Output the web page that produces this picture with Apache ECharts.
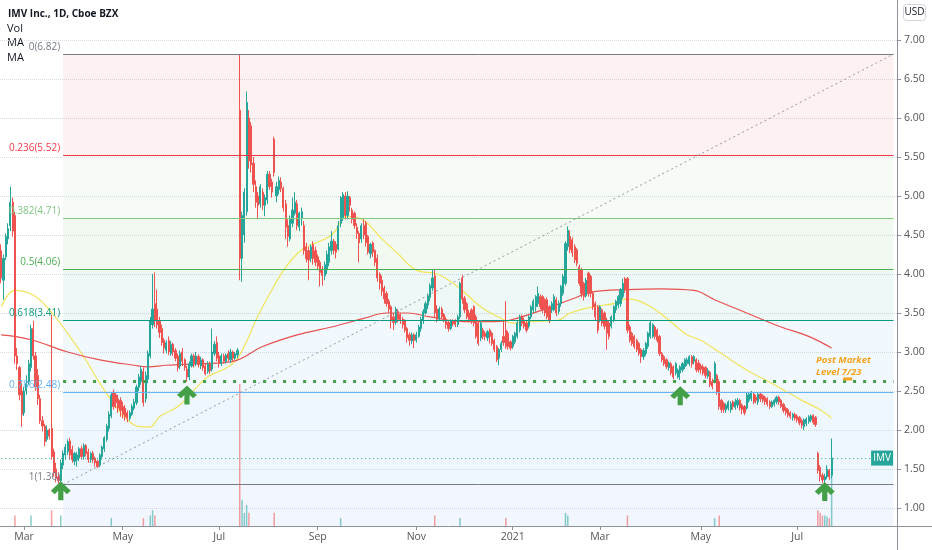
<!DOCTYPE html>
<html><head><meta charset="utf-8">
<script src="https://cdn.jsdelivr.net/npm/echarts@6/dist/echarts.min.js"></script>
<style>html,body{margin:0;padding:0;background:#fff}#c{width:932px;height:550px}</style>
</head><body><div id="c"></div>
<script>
// ---------- data ----------
const startDate = '2020-02-14';
const lastDate = '2021-07-23';
const futureBars = 28;
const holidays = ['2020-02-17','2020-04-10','2020-05-25','2020-07-03','2020-09-07','2020-11-26','2020-12-25',
  '2021-01-01','2021-01-18','2021-02-15','2021-04-02','2021-05-31','2021-07-05'];
// [open, close, low, high] per trading day
const ohlc = [
[4.30,3.95,3.88,4.38],[3.92,4.20,3.67,4.25],[4.22,4.48,4.18,4.52],[4.45,4.58,4.38,4.65],[4.62,4.92,4.55,5.12],
[4.92,4.55,4.48,4.98],[4.75,2.95,2.85,4.80],[2.95,2.85,2.77,3.05],[2.80,2.45,2.38,2.82],[2.50,2.20,2.04,2.60],
[2.22,2.50,2.18,2.55],[2.50,2.60,2.45,2.70],[2.62,2.85,2.58,2.90],[2.80,3.30,2.75,3.35],[3.30,2.95,2.90,3.40],
[2.95,2.55,2.50,3.00],[2.70,2.40,2.32,2.78],[2.40,2.12,2.08,2.45],[2.12,2.05,1.98,2.18],[2.05,1.85,1.79,2.08],
[1.88,2.00,1.85,2.06],[2.00,1.92,1.88,2.02],[2.02,1.66,1.62,3.48],[1.72,1.45,1.40,1.76],[1.50,1.38,1.33,1.58],
[1.40,1.35,1.30,1.45],[1.35,1.58,1.30,1.62],[1.55,1.70,1.50,1.74],[1.68,1.78,1.62,1.82],[1.72,1.85,1.68,1.88],
[1.86,1.68,1.62,1.90],[1.75,1.62,1.58,1.80],[1.60,1.70,1.55,1.72],[1.62,1.68,1.53,1.72],[1.64,1.76,1.60,1.78],
[1.76,1.66,1.62,1.80],[1.66,1.80,1.62,1.83],[1.80,1.70,1.66,1.82],[1.72,1.62,1.58,1.76],[1.62,1.70,1.58,1.72],
[1.70,1.62,1.58,1.73],[1.64,1.58,1.53,1.66],[1.60,1.53,1.51,1.62],[1.55,1.68,1.52,1.70],[1.66,1.78,1.62,1.80],
[1.76,1.90,1.72,1.92],[1.88,2.05,1.85,2.08],[2.02,2.20,1.98,2.24],[2.18,2.45,2.15,2.48],[2.48,2.30,2.26,2.52],
[2.45,2.35,2.28,2.48],[2.40,2.28,2.22,2.45],[2.38,2.25,2.17,2.42],[2.30,2.20,2.15,2.36],[2.28,2.17,2.12,2.32],
[2.22,2.15,2.10,2.25],[2.15,2.22,2.12,2.25],[2.20,2.30,2.18,2.33],[2.28,2.36,2.25,2.40],[2.35,2.55,2.32,2.58],
[2.55,2.68,2.50,2.72],[2.62,2.78,2.58,2.82],[2.75,2.35,2.30,2.80],[2.40,2.70,2.35,2.75],[2.65,2.98,2.60,3.02],
[2.95,3.40,2.92,3.45],[3.35,3.55,3.30,4.00],[3.62,3.40,3.32,4.02],[3.55,3.35,3.30,3.80],[3.40,3.25,3.18,3.45],
[3.30,3.12,3.08,3.35],[3.15,3.05,2.98,3.18],[3.02,3.12,2.98,3.15],[3.15,3.00,2.96,3.20],[2.98,3.10,2.95,3.14],
[3.10,3.00,2.95,3.12],[3.02,2.92,2.88,3.05],[2.95,2.80,2.75,2.98],[2.82,2.98,2.78,3.02],[3.00,2.88,2.82,3.05],
[2.90,2.80,2.76,2.92],[2.78,2.68,2.62,2.82],[2.68,2.85,2.64,2.88],[2.82,2.95,2.80,2.98],[2.95,2.85,2.80,2.98],
[2.85,2.95,2.82,3.00],[2.94,2.84,2.80,2.97],[2.82,2.90,2.78,2.94],[2.90,2.80,2.76,2.92],[2.82,2.72,2.70,2.85],
[2.75,2.85,2.72,2.88],[2.85,2.76,2.72,2.88],[2.78,3.00,2.75,3.30],[2.98,3.10,2.95,3.14],[3.12,2.92,2.88,3.20],
[2.95,2.85,2.80,3.00],[2.85,2.95,2.82,2.98],[2.95,2.88,2.85,2.98],[2.88,2.96,2.85,2.98],[2.98,2.92,2.88,3.02],
[2.90,3.00,2.86,3.04],[3.00,2.92,2.88,3.02],[2.92,2.98,2.90,3.00],[2.96,3.02,2.92,3.05],[6.10,4.20,3.92,6.82],
[4.20,4.75,3.90,4.80],[4.50,5.05,4.40,5.10],[4.80,6.20,4.75,6.34],[6.00,5.45,5.35,6.10],[5.90,5.40,5.30,5.95],
[5.42,5.15,5.05,5.50],[5.12,4.92,4.85,5.20],[5.00,4.88,4.70,5.05],[4.90,5.12,4.85,5.15],[5.05,4.88,4.82,5.10],
[4.88,4.98,4.74,5.02],[4.95,5.28,4.90,5.32],[5.28,5.12,5.08,5.32],[5.18,5.05,4.98,5.22],[5.73,5.30,5.25,5.76],
[5.00,5.12,4.92,5.18],[5.08,5.20,5.02,5.25],[5.18,5.10,5.05,5.24],[5.10,4.85,4.80,5.12],[4.90,4.60,4.45,4.95],
[4.62,4.48,4.35,4.70],[4.45,4.70,4.42,4.75],[4.65,4.82,4.60,4.98],[4.78,4.92,4.75,5.05],[4.90,4.62,4.56,4.95],
[4.60,4.78,4.55,4.80],[4.72,4.80,4.62,4.85],[4.62,4.30,4.25,4.68],[4.35,4.20,4.15,4.40],[4.30,4.18,3.92,4.35],
[4.20,4.35,4.15,4.38],[4.38,4.20,4.12,4.42],[4.30,4.15,4.10,4.35],[4.22,4.10,4.05,4.25],[4.15,4.02,3.84,4.18],
[4.05,3.98,3.85,4.10],[3.98,4.12,3.92,4.16],[4.05,4.25,4.00,4.30],[4.15,4.35,4.10,4.40],[4.30,4.42,4.25,4.55],
[4.42,4.30,4.25,4.45],[4.38,4.28,4.20,4.42],[4.32,4.62,4.30,4.68],[4.65,4.98,4.60,5.00],[4.72,5.02,4.68,5.05],
[5.00,4.75,4.70,5.05],[4.75,5.00,4.70,5.06],[4.98,4.88,4.80,5.00],[4.82,4.70,4.65,4.85],[4.78,4.62,4.58,4.80],
[4.60,4.52,4.45,4.65],[4.52,4.40,4.15,4.55],[4.45,4.62,4.40,4.65],[4.62,4.50,4.45,4.70],[4.65,4.40,4.35,4.68],
[4.48,4.28,4.25,4.50],[4.26,4.38,4.20,4.40],[4.40,4.28,4.22,4.42],[4.30,4.15,4.10,4.32],[4.20,3.95,3.90,4.25],
[4.00,3.88,3.80,4.02],[3.92,3.78,3.72,3.98],[3.82,3.68,3.62,3.85],[3.75,3.62,3.58,3.78],[3.65,3.55,3.50,3.68],
[3.58,3.40,3.30,3.60],[3.45,3.38,3.28,3.50],[3.38,3.55,3.35,3.58],[3.52,3.42,3.38,3.55],[3.48,3.40,3.36,3.50],
[3.42,3.35,3.30,3.45],[3.40,3.28,3.25,3.42],[3.30,3.18,3.12,3.32],[3.22,3.15,3.08,3.25],[3.14,3.22,3.10,3.25],
[3.22,3.15,3.05,3.24],[3.15,3.22,3.12,3.26],[3.20,3.32,3.18,3.35],[3.30,3.42,3.26,3.45],[3.40,3.52,3.36,3.55],
[3.50,3.62,3.48,3.65],[3.60,3.72,3.55,3.75],[3.70,3.85,3.65,3.88],[3.82,3.95,3.78,4.05],[3.98,3.50,3.45,4.06],
[3.55,3.42,3.38,3.60],[3.42,3.55,3.40,3.58],[3.55,3.45,3.42,3.58],[3.48,3.40,3.38,3.50],[3.42,3.35,3.30,3.45],
[3.38,3.30,3.26,3.40],[3.30,3.40,3.28,3.42],[3.40,3.36,3.33,3.42],[3.40,3.35,3.32,3.42],[3.35,3.45,3.32,3.48],
[3.45,3.88,3.42,3.90],[3.95,3.68,3.62,3.99],[3.69,3.54,3.50,3.72],[3.62,3.45,3.42,3.64],[3.50,3.42,3.38,3.54],
[3.54,3.41,3.36,3.56],[3.58,3.37,3.33,3.60],[3.45,3.20,3.17,3.48],[3.37,3.11,3.08,3.40],[3.18,3.37,3.14,3.40],
[3.28,3.20,3.16,3.31],[3.24,3.20,3.15,3.27],[3.18,3.26,3.14,3.28],[3.28,3.20,3.11,3.30],[3.24,3.11,3.08,3.26],
[3.15,3.03,3.00,3.17],[3.07,2.90,2.87,3.09],[2.92,3.03,2.83,3.05],[3.03,3.11,3.00,3.14],[3.20,3.12,3.08,3.40],
[3.28,3.07,3.04,3.65],[3.24,3.07,3.03,3.27],[3.13,3.05,3.02,3.15],[3.07,3.20,3.04,3.22],[3.13,3.24,3.10,3.26],
[3.20,3.37,3.17,3.40],[3.28,3.45,3.25,3.48],[3.45,3.37,3.33,3.48],[3.41,3.33,3.30,3.44],[3.37,3.28,3.25,3.40],
[3.33,3.45,3.30,3.47],[3.45,3.58,3.42,3.60],[3.54,3.65,3.50,3.68],[3.58,3.71,3.52,3.73],[3.62,3.75,3.58,3.84],
[3.71,3.58,3.55,3.74],[3.71,3.54,3.50,3.73],[3.67,3.50,3.46,3.69],[3.67,3.45,3.42,3.70],[3.58,3.41,3.37,3.60],
[3.54,3.62,3.50,3.65],[3.54,3.71,3.52,3.74],[3.67,3.50,3.46,3.70],[3.52,3.62,3.48,3.66],[3.62,3.84,3.58,3.86],
[3.75,3.97,3.72,4.00],[3.88,4.39,3.85,4.42],[4.35,4.56,4.30,4.61],[4.48,4.31,4.27,4.56],[4.44,4.27,4.22,4.47],
[4.35,4.18,4.14,4.38],[4.31,4.14,4.10,4.33],[4.09,3.88,3.85,4.12],[4.05,3.75,3.70,4.08],[3.88,3.71,3.66,3.90],
[3.72,3.92,3.70,3.95],[4.01,3.75,3.71,4.03],[3.97,3.75,3.70,3.99],[3.75,3.58,3.54,3.78],[3.62,3.45,3.41,3.65],
[3.58,3.28,3.24,3.60],[3.41,3.58,3.38,3.60],[3.54,3.37,3.33,3.56],[3.50,3.33,3.29,3.52],[3.41,3.24,3.03,3.44],
[3.37,3.20,3.16,3.40],[3.33,3.45,3.30,3.47],[3.41,3.58,3.38,3.60],[3.54,3.65,3.50,3.67],[3.60,3.71,3.56,3.73],
[3.62,3.80,3.58,3.82],[3.71,3.88,3.68,3.94],[3.94,3.80,3.76,3.96],[3.94,3.28,3.24,3.96],[3.32,3.15,3.12,3.35],
[3.24,3.11,3.08,3.26],[3.20,3.07,3.04,3.22],[3.15,3.03,3.00,3.17],[3.11,2.98,2.95,3.13],[3.03,2.94,2.86,3.05],
[2.94,3.02,2.90,3.05],[2.98,3.11,2.95,3.13],[3.07,3.24,3.04,3.26],[3.20,3.37,3.17,3.40],[3.20,3.35,3.18,3.37],
[3.32,3.20,3.16,3.34],[3.28,3.15,3.12,3.30],[3.20,2.98,2.95,3.22],[2.98,2.90,2.87,3.00],[2.94,2.85,2.82,2.96],
[2.90,2.81,2.78,2.92],[2.80,2.86,2.76,2.88],[2.85,2.73,2.70,2.87],[2.81,2.68,2.65,2.83],[2.73,2.85,2.70,2.87],
[2.68,2.77,2.66,2.79],[2.73,2.81,2.64,2.83],[2.77,2.85,2.74,2.87],[2.81,2.90,2.78,2.92],[2.85,2.90,2.82,2.93],
[2.85,2.94,2.82,2.96],[2.94,2.85,2.80,2.96],[2.88,2.94,2.84,2.96],[2.90,2.77,2.74,2.92],[2.86,2.77,2.74,2.90],
[2.82,2.78,2.72,2.85],[2.81,2.73,2.70,2.84],[2.80,2.70,2.66,2.82],[2.69,2.76,2.66,2.79],[2.74,2.58,2.55,2.76],
[2.62,2.56,2.52,2.66],[2.62,2.85,2.60,2.88],[2.70,2.48,2.45,2.72],[2.62,2.30,2.26,2.65],[2.38,2.26,2.22,2.40],
[2.34,2.26,2.22,2.36],[2.26,2.32,2.22,2.34],[2.28,2.36,2.25,2.38],[2.26,2.34,2.22,2.37],[2.36,2.30,2.26,2.38],
[2.29,2.36,2.26,2.40],[2.32,2.38,2.28,2.41],[2.38,2.28,2.25,2.40],[2.32,2.26,2.20,2.34],[2.30,2.22,2.19,2.32],
[2.28,2.45,2.26,2.48],[2.38,2.46,2.35,2.48],[2.40,2.48,2.37,2.50],[2.46,2.36,2.33,2.48],[2.42,2.38,2.34,2.45],
[2.36,2.46,2.32,2.48],[2.46,2.40,2.36,2.48],[2.44,2.38,2.35,2.46],[2.42,2.36,2.32,2.44],[2.40,2.33,2.30,2.42],
[2.36,2.30,2.27,2.38],[2.30,2.36,2.28,2.38],[2.33,2.38,2.30,2.40],[2.36,2.42,2.33,2.44],[2.42,2.36,2.32,2.44],
[2.38,2.30,2.28,2.40],[2.33,2.25,2.22,2.35],[2.28,2.22,2.19,2.30],[2.26,2.19,2.16,2.28],[2.22,2.17,2.14,2.24],
[2.16,2.20,2.12,2.22],[2.20,2.15,2.12,2.22],[2.18,2.13,2.10,2.20],[2.16,2.09,2.06,2.18],[2.12,2.06,2.02,2.14],
[2.04,2.13,2.00,2.15],[2.08,2.14,2.05,2.16],[2.11,2.17,2.08,2.19],[2.13,2.18,2.10,2.20],[2.19,2.10,2.07,2.20],
[2.16,2.07,2.04,2.18],[1.70,1.48,1.44,1.72],[1.52,1.40,1.34,1.55],[1.42,1.36,1.32,1.45],[1.36,1.40,1.30,1.44],
[1.40,1.50,1.37,1.55],[1.48,1.40,1.36,1.50],[1.42,1.64,1.38,1.89]
];
// visible volume bars (bar index -> relative volume)
const volumeByBar = {6:2,13:2,22:3,26:2,48:1.5,62:1.5,65:2,66:3,67:2,104:27,105:5,106:2.5,107:4,108:2.5,119:2.5,
  148:1.5,189:2,200:1.5,220:1.5,246:2.5,247:2,273:2,311:1.5,313:2,356:3,357:2.5,358:2,359:2,360:1.8,361:1.5,362:10};
// moving averages: [bar index, value]
const ma50 = [[0,3.58],[6,3.79],[14,3.73],[21,3.54],[29,3.24],[36,2.94],[43,2.60],[49,2.34],[55,2.13],[61,2.04],
  [65,2.04],[69,2.17],[77,2.30],[84,2.51],[90,2.68],[99,2.81],[104,2.96],[114,3.58],[129,4.26],[144,4.50],[151,4.74],
  [158,4.69],[165,4.48],[173,4.26],[181,4.05],[190,4.00],[199,3.84],[209,3.58],[218,3.43],[223,3.37],[232,3.39],
  [243,3.41],[248,3.50],[258,3.58],[267,3.62],[273,3.68],[282,3.60],[291,3.41],[299,3.22],[305,3.15],[314,2.98],
  [325,2.77],[337,2.58],[349,2.38],[357,2.26],[362,2.15]];
const ma200 = [[0,3.22],[6,3.20],[14,3.15],[29,3.00],[43,2.90],[58,2.83],[64,2.81],[72,2.83],[87,2.85],[101,2.88],
  [114,3.07],[129,3.22],[144,3.32],[158,3.43],[168,3.50],[177,3.50],[187,3.45],[202,3.39],[215,3.39],[222,3.41],
  [236,3.54],[248,3.67],[258,3.77],[273,3.80],[288,3.81],[302,3.79],[311,3.67],[325,3.50],[340,3.32],[352,3.20],[362,3.05]];
const priceTicks = [1.00,1.50,2.00,2.50,3.00,3.50,4.00,4.50,5.00,5.50,6.00,6.50,7.00];
const fibRatios = ['0','0.236','0.382','0.5','0.618','0.786','1'];
const fibPrices = [6.82,5.52,4.71,4.06,3.41,2.48,1.30];
const fibStartBar = 27, fibEndBar = 389;
const postMarketLevel = 2.63;
const lastPrice = 1.64;
const arrowPoints = [[26,1.22],[81,2.45],[296,2.44],[359,1.21]];
const monthNames = ['Jan','Feb','Mar','Apr','May','Jun','Jul','Aug','Sep','Oct','Nov','Dec'];
const legendLines = ['IMV Inc., 1D, Cboe BZX','Vol','MA','MA'];

// ---------- categories (trading days) ----------
const cats = [];
(function(){
  let d = new Date(startDate + 'T00:00:00Z');
  let done = false, extra = 0;
  while (true) {
    const s = d.toISOString().slice(0,10), wd = d.getUTCDay();
    if (wd !== 0 && wd !== 6) {
      if (!done) { if (!holidays.includes(s)) cats.push(s); if (s === lastDate) done = true; }
      else { cats.push(s); extra++; if (extra >= futureBars) break; }
    }
    d.setUTCDate(d.getUTCDate() + 1);
  }
})();
function isLabelIdx(i){
  if (i === 0 || i >= ohlc.length) return false;
  const m = +cats[i].slice(5,7), pm = +cats[i-1].slice(5,7);
  return m !== pm && (m % 2 === 1);
}

const UP = '#26a69a', DOWN = '#ef5350';
const fibColors = ['#787b86','#f23645','#81c784','#4caf50','#089981','#64b5f6','#787b86'];
const bandColors = ['rgba(242,54,69,0.07)','rgba(129,199,132,0.07)','rgba(76,175,80,0.08)','rgba(8,153,129,0.07)',
  'rgba(100,181,246,0.09)','rgba(100,181,246,0.11)','rgba(41,98,255,0.06)'];
const yMin = 0.769, yMax = 7.513;

const volData = cats.map((c,i)=>{
  const v = volumeByBar[i];
  if (v == null) return null;
  const k = ohlc[i];
  return {value: v, itemStyle: {color: k[1] >= k[0] ? 'rgba(38,166,154,0.55)' : 'rgba(239,83,80,0.55)'}};
});

const FONT = 'Open Sans';
const fibAreas = fibPrices.map((p,i)=>{
  const lower = i < fibPrices.length-1 ? fibPrices[i+1] : yMin;
  return [{coord:[fibStartBar,p], itemStyle:{color:bandColors[i]}}, {coord:[fibEndBar,lower]}];
});
const fibLines = fibPrices.map((p,i)=>[
  {coord:[fibStartBar,p], lineStyle:{color:fibColors[i],width:1,type:'solid'},
   label:{show:true,position:'start',formatter:fibRatios[i]+'('+p.toFixed(2)+')',color:fibColors[i],fontSize:10,
     fontFamily:FONT,distance:3,offset:[0,-7]}},
  {coord:[fibEndBar,p]}
]);

const chart = echarts.init(document.getElementById('c'), null, {renderer:'canvas'});
chart.setOption({
  animation:false,
  backgroundColor:'#ffffff',
  textStyle:{fontFamily:FONT},
  grid:{left:0,right:35,top:0,bottom:24},
  xAxis:{type:'category',data:cats,boundaryGap:true,
    axisLine:{show:true,lineStyle:{color:'#8f929b',width:1}},
    axisTick:{show:true,interval:isLabelIdx,alignWithLabel:true,length:4,lineStyle:{color:'#8f929b'}},
    axisLabel:{interval:isLabelIdx,color:'#555',fontSize:10.5,margin:6,fontFamily:FONT,
      formatter:(v)=>{const m=+v.slice(5,7);return m===1?v.slice(0,4):monthNames[m-1];}},
    splitLine:{show:false}},
  yAxis:[{type:'value',position:'right',min:yMin,max:yMax,scale:true,
    axisLine:{show:true,lineStyle:{color:'#8f929b'}},
    axisTick:{show:true,length:4,customValues:priceTicks,lineStyle:{color:'#8f929b'}},
    axisLabel:{customValues:priceTicks,formatter:(v)=>v.toFixed(2),color:'#555',fontSize:10.5,margin:7,fontFamily:FONT},
    splitLine:{show:true,lineStyle:{color:'#d9dbe2',type:'dotted'}}},
    {type:'value',min:0,max:100,show:false}],
  series:[
    {type:'line',name:'fib',data:[],z:1,silent:true,
      markArea:{silent:true,data:fibAreas},
      markLine:{silent:true,symbol:['none','none'],data:fibLines.concat([
        [{coord:[fibStartBar,fibPrices[6]],lineStyle:{color:'#9598a1',type:[2,3],width:1},label:{show:false}},{coord:[fibEndBar,fibPrices[0]]}],
        [{coord:[fibStartBar,postMarketLevel],lineStyle:{color:'#43a047',type:[3,7],width:3},label:{show:false}},{coord:[fibEndBar,postMarketLevel]}],
        [{coord:[0,lastPrice],lineStyle:{color:UP,type:[1,3],width:1},label:{show:false}},{coord:[379,lastPrice]}]
      ])}},
    {type:'bar',name:'Vol',data:volData,yAxisIndex:1,barWidth:1.5,z:2,silent:true},
    {type:'candlestick',name:'IMV',data:ohlc,z:4,barWidth:1.7,silent:true,
      itemStyle:{color:UP,color0:DOWN,borderColor:UP,borderColor0:DOWN,borderWidth:1},
      markPoint:{silent:true,data:[
        ...arrowPoints.map(a=>({coord:a,symbol:'path://M10,0 L20,10 L16,13.5 L12.6,10 L12.6,20 L7.4,20 L7.4,10 L4,13.5 L0,10 Z',
          symbolSize:[20,19],itemStyle:{color:'#43a047'},label:{show:false}})),
        {coord:[384,lastPrice],symbol:'rect',symbolSize:[22,15],itemStyle:{color:UP},
          label:{show:true,position:'inside',formatter:'IMV',color:'#fff',fontSize:10,fontFamily:FONT}},
        {coord:[369,2.655],symbol:'rect',symbolSize:[9,3],itemStyle:{color:'#f5a31c'},label:{show:false}},
        {coord:[355,2.82],symbol:'rect',symbolSize:[1,1],itemStyle:{color:'rgba(0,0,0,0)'},
          label:{show:true,position:'right',distance:0,formatter:'Post Market\nLevel 7/23',color:'#f5a31c',
            fontSize:9.5,fontStyle:'italic',fontWeight:'bold',lineHeight:12,fontFamily:FONT}}
      ]}},
    {type:'line',name:'MA',data:ma50,smooth:0.4,symbol:'none',z:3,silent:true,lineStyle:{color:'#f2e45c',width:1.2}},
    {type:'line',name:'MA',data:ma200,smooth:0.4,symbol:'none',z:3,silent:true,lineStyle:{color:'#e8524f',width:1.2}}
  ],
  graphic:[
    {type:'text',x:8,y:14,style:{text:legendLines[0],font:'bold 10px "Open Sans"',fill:'#131722',verticalAlign:'middle'}},
    {type:'text',x:7,y:28.5,style:{text:legendLines[1],font:'11px "Open Sans"',fill:'#131722',verticalAlign:'middle'}},
    {type:'text',x:7,y:43,style:{text:legendLines[2],font:'11px "Open Sans"',fill:'#131722',verticalAlign:'middle'}},
    {type:'text',x:7,y:57.5,style:{text:legendLines[3],font:'11px "Open Sans"',fill:'#131722',verticalAlign:'middle'}},
    {type:'rect',shape:{x:903.5,y:4.5,width:22,height:16,r:3},style:{fill:'#fff',stroke:'#d1d4dc',lineWidth:1}},
    {type:'text',x:914.5,y:12.5,style:{text:'USD',font:'10px "Open Sans"',fill:'#131722',align:'center',verticalAlign:'middle'}},
    {type:'line',shape:{x1:897,y1:526.5,x2:932,y2:526.5},style:{stroke:'#8f929b',lineWidth:1}},
    {type:'line',shape:{x1:897.5,y1:526,x2:897.5,y2:550},style:{stroke:'#8f929b',lineWidth:1}}
  ]
});
</script></body></html>
